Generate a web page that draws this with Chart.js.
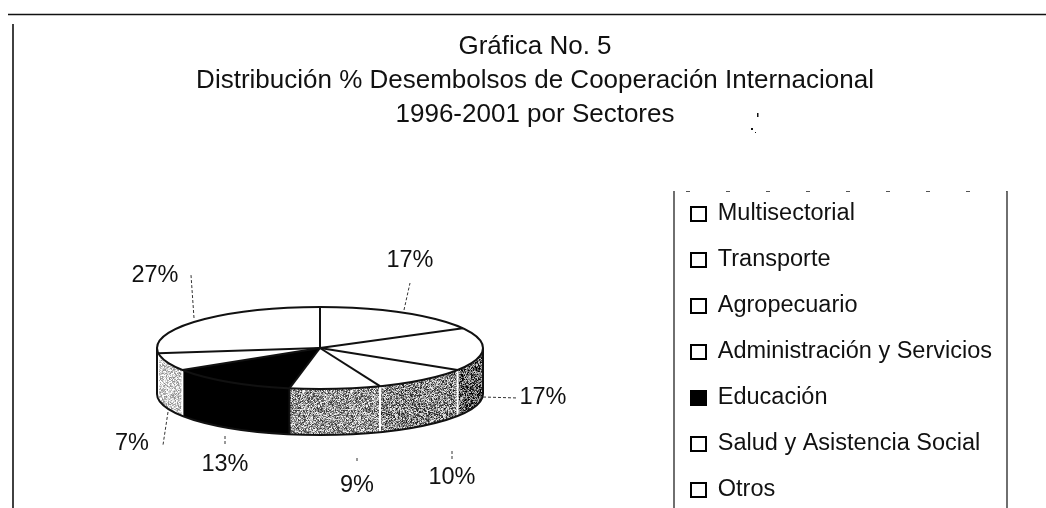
<!DOCTYPE html>
<html><head><meta charset="utf-8">
<style>html,body{margin:0;padding:0;background:#fff}canvas{display:block}</style>
<script src="https://cdn.jsdelivr.net/npm/chart.js@4"></script>
</head><body>
<canvas id="c" width="1046" height="508"></canvas>
<script>
const titleLines = ['Gráfica No. 5','Distribución % Desembolsos de Cooperación Internacional','1996-2001 por Sectores'];
const categories = ['Multisectorial','Transporte','Agropecuario','Administración y Servicios','Educación','Salud y Asistencia Social','Otros'];
const shares = [17,17,10,9,13,7,27];
const topColors = ['#ffffff','#ffffff','#ffffff','#ffffff','#000000','#ffffff','#ffffff'];
// side tone of each slice: [base grey, speck amount]
const sideTones = [[255,0],[95,120],[135,110],[150,105],[0,0],[205,70],[0,0]];
// label centre and leader end points, per slice
const labelCentres = [[410,261],[543,398],[452,478],[357,486],[225,465],[132,444],[155,276]];
const leaders = [[[404,310],[410,283]],[[483,397],[518,398]],[[452,451],[452,460]],[[357,458],[357,463]],[[225,436],[225,445]],[[168,412],[163,445]],[[194,318],[191,275]]];

const FONT = '"Liberation Sans", Arial, sans-serif';
const INK = '#111';
const CX = 320, CY = 348, RX = 163, RY = 41, DEPTH = 46;
const LEGEND = {left:674, right:1007, top:191, bottom:508};

function speckle(base, amount, seed){
  const s = document.createElement('canvas'); s.width = s.height = 48;
  const g = s.getContext('2d');
  for(let y=0;y<48;y++) for(let x=0;x<48;x++){
    const h = Math.sin((x+seed)*12.9898 + (y*2+seed)*78.233)*43758.5453;
    const f = h - Math.floor(h);
    const v = Math.max(0, Math.min(255, Math.round(base + (f-0.5)*2*amount)));
    g.fillStyle = `rgb(${v},${v},${v})`; g.fillRect(x,y,1,1);
  }
  return g.createPattern(s,'repeat');
}

const pie3d = {
  id:'pie3d',
  afterLayout(chart){
    chart.chartArea = {left:CX-320,right:CX+320,top:CY-160,bottom:CY+160,width:640,height:320};
    const t = chart.titleBlock; t.left = 35; t.right = 1035; t.top = 30; t.bottom = 132;
    const l = chart.legend;
    l.maxHeight = 700; l.maxWidth = 400; l.fit();
    l.left = 668.5; l.right = LEGEND.right; l.top = 179.75; l.bottom = 179.75 + 350;
  },
  beforeDraw(chart){
    const c = chart.ctx;
    c.save();
    c.strokeStyle = INK; c.lineWidth = 1.6;
    c.beginPath(); c.moveTo(8,14.5); c.lineTo(1046,14.5); c.stroke();
    c.beginPath(); c.moveTo(13,24); c.lineTo(13,508); c.stroke();
    c.lineWidth = 1.2;
    c.beginPath();
    c.moveTo(LEGEND.left,LEGEND.top); c.lineTo(LEGEND.left,LEGEND.bottom);
    c.moveTo(LEGEND.right,LEGEND.top); c.lineTo(LEGEND.right,LEGEND.bottom);
    c.stroke();
    c.setLineDash([4,36]); c.lineWidth = 1; c.strokeStyle = '#555';
    c.beginPath(); c.moveTo(LEGEND.left+12,LEGEND.top+.5); c.lineTo(LEGEND.right,LEGEND.top+.5); c.stroke();
    c.setLineDash([]);
    c.fillStyle = INK;
    c.fillRect(757,113,1.5,4); c.fillRect(751,128,2,2); c.fillRect(755,132,1,1);
    c.restore();
  },
  beforeDatasetsDraw(chart){
    const c = chart.ctx, arcs = chart.getDatasetMeta(0).data;
    c.save();
    const px = a => CX + RX*Math.cos(a), py = a => CY + RY*Math.sin(a);
    arcs.forEach((arc,i)=>{
      const a0 = Math.max(arc.startAngle,0), a1 = Math.min(arc.endAngle,Math.PI);
      if(a1<=a0) return;
      c.beginPath();
      c.ellipse(CX,CY,RX,RY,0,a0,a1,false);
      c.lineTo(px(a1),py(a1)+DEPTH);
      c.ellipse(CX,CY+DEPTH,RX,RY,0,a1,a0,true);
      c.closePath();
      c.fillStyle = sideTones[i][1] ? speckle(sideTones[i][0],sideTones[i][1],i*7+3) : `rgb(${sideTones[i][0]},${sideTones[i][0]},${sideTones[i][0]})`;
      c.fill();
    });
    // divider lines between side faces
    arcs.forEach((arc,i)=>{
      const a = arc.endAngle;
      if(a<=0.02 || a>=Math.PI) return;
      c.strokeStyle = (i===3) ? '#111' : '#fff'; c.lineWidth = 2;
      c.beginPath(); c.moveTo(px(a),py(a)); c.lineTo(px(a),py(a)+DEPTH); c.stroke();
    });
    c.restore();
    c.save();
    c.translate(CX,CY); c.scale(1,RY/RX); c.translate(-CX,-CY);
  },
  afterDatasetsDraw(chart){
    const c = chart.ctx, arcs = chart.getDatasetMeta(0).data;
    c.restore();
    c.save();
    c.strokeStyle = INK; c.lineWidth = 2; c.lineJoin = 'round';
    c.beginPath(); c.ellipse(CX,CY,RX,RY,0,0,Math.PI*2); c.stroke();
    arcs.forEach(arc=>{
      c.beginPath(); c.moveTo(CX,CY);
      c.lineTo(CX+RX*Math.cos(arc.startAngle),CY+RY*Math.sin(arc.startAngle)); c.stroke();
    });
    // outer silhouette
    c.beginPath();
    c.moveTo(CX-RX,CY); c.lineTo(CX-RX,CY+DEPTH);
    c.ellipse(CX,CY+DEPTH,RX,RY,0,Math.PI,0,true);
    c.lineTo(CX+RX,CY); c.stroke();
    // leaders and value labels
    c.strokeStyle = '#333'; c.lineWidth = 1; c.setLineDash([3,2]);
    leaders.forEach(([p,q])=>{ c.beginPath(); c.moveTo(p[0],p[1]); c.lineTo(q[0],q[1]); c.stroke(); });
    c.setLineDash([]);
    c.fillStyle = INK; c.font = `23.5px ${FONT}`; c.textAlign = 'center'; c.textBaseline = 'middle';
    shares.forEach((v,i)=> c.fillText(v+'%',labelCentres[i][0],labelCentres[i][1]));
    c.restore();
  }
};

new Chart(document.getElementById('c'),{
  type:'pie',
  data:{labels:categories,datasets:[{data:shares,backgroundColor:topColors,borderWidth:0,hoverOffset:0}]},
  options:{
    responsive:false,animation:false,radius:RX,rotation:0,
    events:[],
    layout:{padding:0},
    plugins:{
      tooltip:{enabled:false},
      title:{display:true,text:titleLines,color:INK,font:{family:FONT,size:26,weight:'normal',lineHeight:1.31},padding:0},
      legend:{
        position:'chartArea',align:'start',
        labels:{
          font:{family:FONT,size:23.5},color:INK,boxWidth:15,boxHeight:14,padding:22.5,
          generateLabels(chart){
            return Chart.overrides.pie.plugins.legend.labels.generateLabels(chart).map(it=>({...it,strokeStyle:'#000',lineWidth:2,hidden:false}));
          }
        }
      }
    }
  },
  plugins:[pie3d]
});
</script>
</body></html>
